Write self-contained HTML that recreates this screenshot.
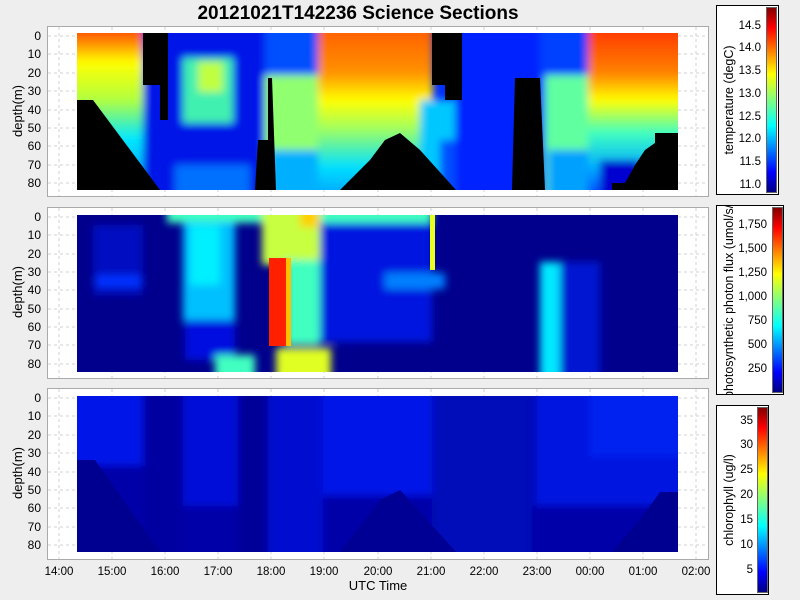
<!DOCTYPE html>
<html><head><meta charset="utf-8"><style>
body{margin:0;background:#eeeeee;}
svg{display:block;font-family:"Liberation Sans","DejaVu Sans",sans-serif;}
</style></head><body>
<svg width="800" height="600" viewBox="0 0 800 600" xmlns="http://www.w3.org/2000/svg">
<defs>
<linearGradient id="jet" x1="0" y1="1" x2="0" y2="0">
<stop offset="0" stop-color="#000080"/><stop offset="0.11" stop-color="#0000ff"/>
<stop offset="0.36" stop-color="#00ffff"/><stop offset="0.5" stop-color="#80ff80"/>
<stop offset="0.64" stop-color="#ffff00"/><stop offset="0.89" stop-color="#ff0000"/>
<stop offset="1" stop-color="#800000"/></linearGradient>
<filter id="bl" x="-5%" y="-5%" width="110%" height="110%"><feGaussianBlur stdDeviation="4"/></filter>
<clipPath id="c1"><rect x="77" y="33" width="601" height="157"/></clipPath>
<clipPath id="c2"><rect x="77" y="215" width="601" height="157"/></clipPath>
<clipPath id="c3"><rect x="77" y="396" width="601" height="156"/></clipPath>
<clipPath id="cb2"><rect x="717" y="206" width="66" height="188"/></clipPath>
<linearGradient id="tA" x1="0" y1="0" x2="0" y2="1">
<stop offset="0" stop-color="#ff1000"/><stop offset="0.12" stop-color="#ff7000"/><stop offset="0.25" stop-color="#ffff00"/><stop offset="0.45" stop-color="#b0ff40"/><stop offset="0.65" stop-color="#00e8ff"/><stop offset="1" stop-color="#0080ff"/></linearGradient>
<linearGradient id="tB" x1="0" y1="0" x2="0" y2="1">
<stop offset="0" stop-color="#ff5000"/><stop offset="0.3" stop-color="#ff9000"/><stop offset="0.45" stop-color="#ffff00"/><stop offset="0.6" stop-color="#a0ff60"/><stop offset="0.8" stop-color="#00e0ff"/><stop offset="1" stop-color="#0090ff"/></linearGradient>
<linearGradient id="tC" x1="0" y1="0" x2="0" y2="1">
<stop offset="0" stop-color="#ff2000"/><stop offset="0.3" stop-color="#ff8000"/><stop offset="0.45" stop-color="#ffff00"/><stop offset="0.62" stop-color="#40ffc0"/><stop offset="0.8" stop-color="#00b0ff"/><stop offset="1" stop-color="#0020ff"/></linearGradient>
</defs>

<text x="358" y="19" text-anchor="middle" font-size="19" font-weight="bold" fill="#000">20121021T142236 Science Sections</text>

<g fill="#fff" stroke="#aaa" stroke-width="1">
<rect x="47.5" y="26.5" width="661" height="170"/>
<rect x="47.5" y="207.5" width="661" height="171"/>
<rect x="47.5" y="388.5" width="661" height="171"/>
</g>
<g stroke="#d0d0d0" stroke-dasharray="3,3" stroke-width="1">
<path d="M59 27V196M112 27V196M165 27V196M218 27V196M271 27V196M324 27V196M378 27V196M431 27V196M484 27V196M537 27V196M590 27V196M643 27V196M696 27V196"/>
<path d="M59 208V378M112 208V378M165 208V378M218 208V378M271 208V378M324 208V378M378 208V378M431 208V378M484 208V378M537 208V378M590 208V378M643 208V378M696 208V378"/>
<path d="M59 389V559M112 389V559M165 389V559M218 389V559M271 389V559M324 389V559M378 389V559M431 389V559M484 389V559M537 389V559M590 389V559M643 389V559M696 389V559"/>
<path d="M48 36H708M48 54H708M48 73H708M48 91H708M48 110H708M48 128H708M48 146H708M48 165H708M48 183H708"/>
<path d="M48 217H708M48 235H708M48 254H708M48 272H708M48 290H708M48 309H708M48 327H708M48 345H708M48 364H708"/>
<path d="M48 398H708M48 416H708M48 435H708M48 453H708M48 472H708M48 490H708M48 508H708M48 527H708M48 545H708"/>
</g>

<!-- Panel 1 -->
<g clip-path="url(#c1)">
<rect x="77" y="33" width="601" height="157" fill="#0030ff"/>
<g filter="url(#bl)">
<rect x="60" y="15" width="85" height="190" fill="url(#tA)"/>
<rect x="143" y="15" width="122" height="190" fill="#0018e8"/>
<rect x="183" y="58" width="50" height="65" fill="#40f0b0"/>
<rect x="198" y="62" width="25" height="30" fill="#c0ff40"/>
<rect x="175" y="165" width="75" height="40" fill="#0070ff"/>
<rect x="265" y="15" width="55" height="60" fill="#0050ff"/>
<rect x="265" y="75" width="55" height="130" fill="#90ff70"/>
<rect x="268" y="150" width="55" height="55" fill="#00b0ff"/>
<rect x="318" y="15" width="115" height="190" fill="url(#tB)"/>
<rect x="420" y="100" width="40" height="105" fill="#00c8ff"/>
<rect x="440" y="140" width="60" height="65" fill="#0050ff"/>
<rect x="455" y="15" width="95" height="190" fill="#0020ff"/>
<rect x="540" y="15" width="50" height="60" fill="#0040ff"/>
<rect x="545" y="75" width="50" height="130" fill="#60ffa0"/>
<rect x="548" y="150" width="50" height="55" fill="#00a0ff"/>
<rect x="588" y="15" width="105" height="190" fill="url(#tC)"/>
<rect x="600" y="160" width="40" height="45" fill="#0000d0"/>
</g>
<g fill="#000">
<polygon points="77,100 93,100 160,190 77,190"/>
<polygon points="143,33 168,33 168,120 160,120 160,85 143,85"/>
<polygon points="255,190 258,140 268,140 268,78 272,78 276,190"/>
<polygon points="340,190 370,160 385,140 400,133 420,150 456,190"/>
<polygon points="432,33 462,33 462,100 445,100 445,85 432,85"/>
<polygon points="512,190 515,78 540,78 545,190"/>
<polygon points="612,190 612,183 625,183 635,165 645,150 655,143 655,133 678,133 678,190"/>
</g>
</g>

<!-- Panel 2 -->
<g clip-path="url(#c2)">
<rect x="77" y="215" width="601" height="157" fill="#00008c"/>
<g filter="url(#bl)">
<rect x="93" y="225" width="50" height="70" fill="#0010c0"/>
<rect x="96" y="275" width="45" height="12" fill="#0030ff"/>
<rect x="167" y="205" width="100" height="18" fill="#40ffc0"/>
<rect x="183" y="222" width="52" height="100" fill="#00c0ff"/>
<rect x="190" y="225" width="30" height="60" fill="#00f0ff"/>
<rect x="185" y="320" width="50" height="40" fill="#0010e0"/>
<rect x="215" y="355" width="40" height="27" fill="#40ffc0"/>
<rect x="262" y="205" width="60" height="60" fill="#c8ff40"/>
<rect x="300" y="205" width="25" height="22" fill="#ffd000"/>
<rect x="285" y="260" width="35" height="85" fill="#40ffc0"/>
<rect x="276" y="348" width="55" height="34" fill="#e0ff20"/>
<rect x="320" y="222" width="112" height="120" fill="#0014e0"/>
<rect x="320" y="205" width="112" height="18" fill="#40ffc0"/>
<rect x="385" y="273" width="60" height="16" fill="#0080ff"/>
<rect x="540" y="262" width="22" height="120" fill="#00e8ff"/>
<rect x="560" y="262" width="40" height="120" fill="#0018d0"/>
</g>
<rect x="269" y="258" width="18" height="88" fill="#ff2000"/>
<rect x="286" y="258" width="5" height="88" fill="#ffc000"/>
<rect x="430" y="215" width="5" height="55" fill="#e8ff20"/>
</g>

<!-- Panel 3 -->
<g clip-path="url(#c3)">
<rect x="77" y="396" width="601" height="156" fill="#0000a8"/>
<g filter="url(#bl)">
<rect x="60" y="386" width="83" height="80" fill="#0018e8"/>
<rect x="143" y="386" width="40" height="176" fill="#0000a0"/>
<rect x="183" y="386" width="55" height="120" fill="#0010d8"/>
<rect x="238" y="386" width="30" height="176" fill="#000098"/>
<rect x="268" y="386" width="55" height="176" fill="#0010d0"/>
<rect x="323" y="386" width="110" height="110" fill="#0018e8"/>
<rect x="432" y="386" width="100" height="176" fill="#0008b8"/>
<rect x="535" y="386" width="153" height="120" fill="#0014e0"/>
<rect x="590" y="386" width="98" height="70" fill="#0020f0"/>
</g>
<polygon points="77,460 95,460 160,552 77,552" fill="#000090"/>
<polygon points="340,552 380,500 400,490 456,552" fill="#000095"/>
<polygon points="612,552 640,520 660,492 678,492 678,552" fill="#000090"/>
</g>

<g font-size="12" fill="#000" text-anchor="end">
<text x="41" y="40">0</text><text x="41" y="58">10</text><text x="41" y="77">20</text><text x="41" y="95">30</text><text x="41" y="114">40</text><text x="41" y="132">50</text><text x="41" y="150">60</text><text x="41" y="169">70</text><text x="41" y="187">80</text>
<text x="41" y="221">0</text><text x="41" y="239">10</text><text x="41" y="258">20</text><text x="41" y="276">30</text><text x="41" y="294">40</text><text x="41" y="313">50</text><text x="41" y="331">60</text><text x="41" y="349">70</text><text x="41" y="368">80</text>
<text x="41" y="402">0</text><text x="41" y="420">10</text><text x="41" y="439">20</text><text x="41" y="457">30</text><text x="41" y="476">40</text><text x="41" y="494">50</text><text x="41" y="512">60</text><text x="41" y="531">70</text><text x="41" y="549">80</text>
</g>
<g font-size="13" fill="#000" text-anchor="middle">
<text transform="translate(22,111) rotate(-90)">depth(m)</text>
<text transform="translate(22,292) rotate(-90)">depth(m)</text>
<text transform="translate(22,473) rotate(-90)">depth(m)</text>
</g>
<g font-size="11.5" fill="#000" text-anchor="middle">
<text x="59" y="575">14:00</text><text x="112" y="575">15:00</text><text x="165" y="575">16:00</text><text x="218" y="575">17:00</text><text x="271" y="575">18:00</text><text x="324" y="575">19:00</text><text x="378" y="575">20:00</text><text x="431" y="575">21:00</text><text x="484" y="575">22:00</text><text x="537" y="575">23:00</text><text x="590" y="575">00:00</text><text x="643" y="575">01:00</text><text x="696" y="575">02:00</text>
</g>
<text x="378" y="590" font-size="13" text-anchor="middle">UTC Time</text>

<rect x="716.5" y="5.5" width="62" height="189" fill="#fff" stroke="#000"/>
<rect x="766.5" y="7.5" width="10" height="185" fill="url(#jet)" stroke="#666"/>
<g font-size="11.5" text-anchor="end">
<text x="761" y="29">14.5</text><text x="761" y="51">14.0</text><text x="761" y="74">13.5</text><text x="761" y="97">13.0</text><text x="761" y="120">12.5</text><text x="761" y="142">12.0</text><text x="761" y="165">11.5</text><text x="761" y="188">11.0</text>
</g>
<text transform="translate(733,100) rotate(-90)" font-size="12.5" text-anchor="middle">temperature (degC)</text>

<rect x="716.5" y="205.5" width="67" height="189" fill="#fff" stroke="#000"/>
<rect x="772.5" y="207.5" width="10" height="185" fill="url(#jet)" stroke="#666"/>
<g font-size="11.5" text-anchor="end">
<text x="767" y="228">1,750</text><text x="767" y="252">1,500</text><text x="767" y="276">1,250</text><text x="767" y="300">1,000</text><text x="767" y="324">750</text><text x="767" y="348">500</text><text x="767" y="372">250</text>
</g>
<g clip-path="url(#cb2)">
<text transform="translate(733,398) rotate(-90)" font-size="12.5" text-anchor="start">photosynthetic photon flux (umol/s/m²)</text>
</g>

<rect x="716.5" y="405.5" width="52" height="189" fill="#fff" stroke="#000"/>
<rect x="757.5" y="407.5" width="10" height="185" fill="url(#jet)" stroke="#666"/>
<g font-size="11.5" text-anchor="end">
<text x="753" y="424">35</text><text x="753" y="448">30</text><text x="753" y="473">25</text><text x="753" y="498">20</text><text x="753" y="523">15</text><text x="753" y="548">10</text><text x="753" y="573">5</text>
</g>
<text transform="translate(733,500) rotate(-90)" font-size="12.5" text-anchor="middle">chlorophyll (ug/l)</text>
</svg>
</body></html>
